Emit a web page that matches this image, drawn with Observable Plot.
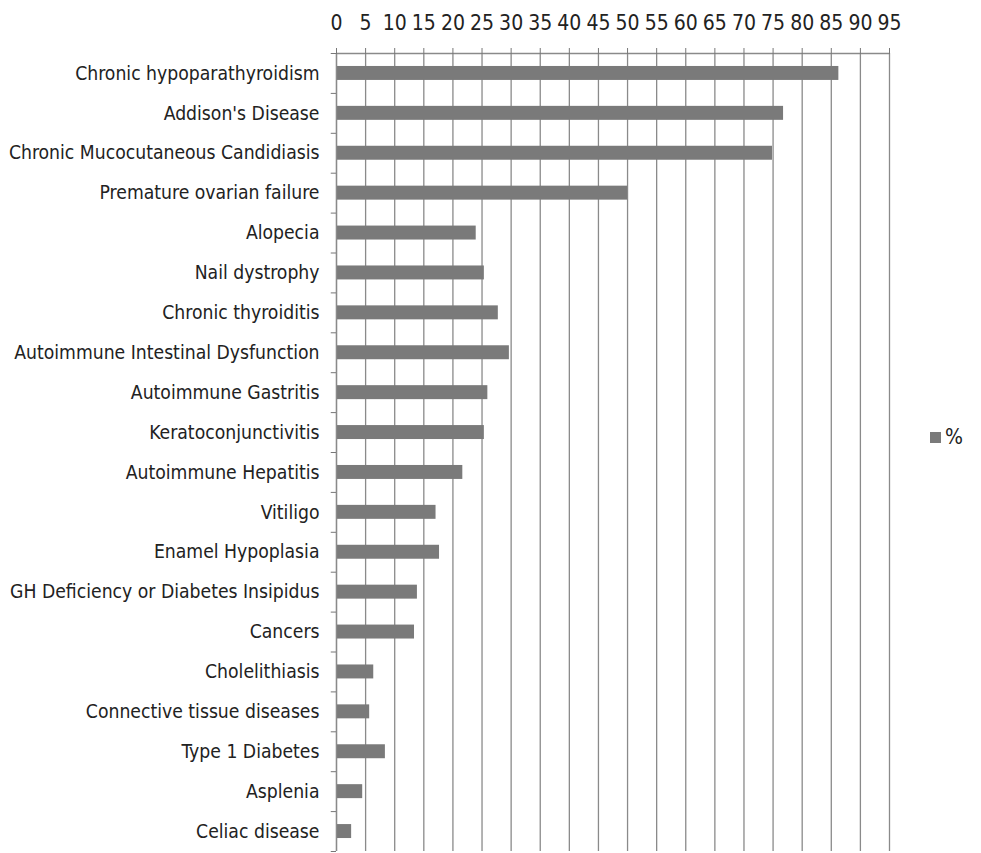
<!DOCTYPE html>
<html><head><meta charset="utf-8">
<script src="https://cdn.jsdelivr.net/npm/d3@7"></script>
<script src="https://cdn.jsdelivr.net/npm/@observablehq/plot@0.6"></script>
<style>
html,body{margin:0;padding:0;background:#fff;}
#wrap{position:relative;width:981px;height:853px;}
#legend{position:absolute;left:930px;top:425px;font-family:"DejaVu Sans Condensed",sans-serif;font-size:21px;color:#222;display:flex;align-items:center;}
#legend span.sw{display:inline-block;width:11px;height:11px;background:#7a7a7a;margin-right:4px;}
</style>
</head><body>
<div id="wrap"><div id="legend"><span class="sw"></span><span>%</span></div></div>
<script>
const categories = ["Chronic hypoparathyroidism","Addison's Disease","Chronic Mucocutaneous Candidiasis","Premature ovarian failure","Alopecia","Nail dystrophy","Chronic thyroiditis","Autoimmune Intestinal Dysfunction","Autoimmune Gastritis","Keratoconjunctivitis","Autoimmune Hepatitis","Vitiligo","Enamel Hypoplasia","GH Deficiency or Diabetes Insipidus","Cancers","Cholelithiasis","Connective tissue diseases","Type 1 Diabetes","Asplenia","Celiac disease"];
const values = [86.3,76.8,74.9,50,24.0,25.4,27.8,29.7,26,25.4,21.7,17.1,17.7,13.9,13.4,6.4,5.7,8.4,4.5,2.6];
const xTicks = d3.range(0, 96, 5);

const data = categories.map((c,i)=>({cat:c, v:values[i]}));
const font = '"DejaVu Sans Condensed",sans-serif';
const H = 853, mt = 53, mb = 2;
const step = (H - mt - mb) / categories.length;

const chart = Plot.plot({
  width: 981, height: H,
  marginLeft: 336, marginRight: 92, marginTop: mt, marginBottom: mb,
  style: {fontFamily: font, fontSize: "19px", color: "#222", background: "#fff"},
  x: {domain: [0, 95], axis: null},
  y: {domain: categories, paddingInner: 0.65, paddingOuter: 0.325, round: false, axis: null},
  marks: [
    Plot.gridX(xTicks, {stroke: "#8a8a8a", strokeOpacity: 1, strokeWidth: 1.3}),
    Plot.barX(data, {x: "v", y: "cat", fill: "#7a7a7a"}),
    Plot.ruleY(categories, {y: d=>d, x1: -0.9, x2: 0, dy: -step/2, stroke: "#777"}),
    Plot.ruleY(categories.slice(-1), {y: d=>d, x1: -0.9, x2: 0, dy: step/2, stroke: "#777"}),
    Plot.ruleX([0], {stroke: "#8a8a8a", strokeWidth: 1.3}),
    Plot.ruleY([categories[0]], {y: d=>d, dy: -step/2, stroke: "#8a8a8a", strokeWidth: 1.3}),
    Plot.axisX(xTicks, {anchor: "top", tickSize: 6, tickPadding: 18, stroke: "#777", fontSize: 21, fill: "#222", label: null}),
    Plot.axisY({anchor: "left", tickSize: 0, tickPadding: 17, fontSize: 19.2, fill: "#222", label: null})
  ]
});
document.getElementById("wrap").prepend(chart);
chart.style.position = "absolute"; chart.style.left = "0"; chart.style.top = "0";
</script>
</body></html>
